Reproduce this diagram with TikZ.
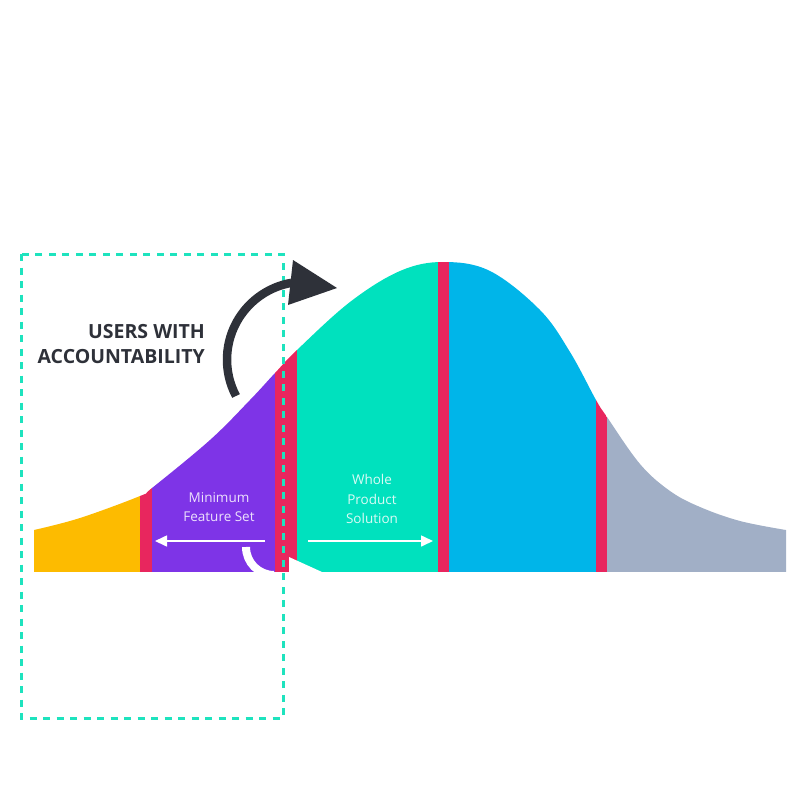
\documentclass[tikz,border=0pt]{standalone}
\usepackage{fontspec}
\setmainfont{Open Sans}
\usetikzlibrary{arrows.meta}
\definecolor{cyel}{HTML}{FDBB00}
\definecolor{cpink}{HTML}{E8265E}
\definecolor{cpurp}{HTML}{7E34E7}
\definecolor{cteal}{HTML}{00E1BE}
\definecolor{cblue}{HTML}{00B5E9}
\definecolor{cgray}{HTML}{A1AFC6}
\definecolor{cdark}{HTML}{2E3139}
\definecolor{cdash}{HTML}{1EE3BE}
\tikzset{
  band/.style={fill=#1},
  lbl/.style={text=white, text opacity=0.85, font=\fontsize{13.5}{19.5}\selectfont, align=center},
  warrow/.style={draw=white, line width=1.6pt, -{Triangle[length=12pt,width=11pt]}},
  bigtxt/.style={text=cdark, font=\fontsize{19.5}{26}\selectfont\bfseries, align=right, anchor=base east, inner sep=0pt}
}
\begin{document}
\begin{tikzpicture}[x=1pt,y=-1pt]
\useasboundingbox (0,0) rectangle (800,800);
\begin{scope}
\clip (34,572) -- plot[smooth, tension=0.6] coordinates {(34,530) (80,518) (140,496) (152,488) (210,440) (250,400) (275,373) (297,350) (350,302) (400,271) (443,262) (490,271) (540,310) (570,352) (596,400) (607,417) (640,464) (670,491) (700,507) (740,521) (786,530)} -- (786,572) -- cycle;
\fill[cyel] (30,200) rectangle (140,572);
\fill[cpink] (140,200) rectangle (152,572);
\fill[cpurp] (152,200) rectangle (275,572);
\fill[cpink] (275,200) rectangle (297,572);
\fill[cteal] (297,200) rectangle (438,572);
\fill[cpink] (438,200) rectangle (449,572);
\fill[cblue] (449,200) rectangle (596,572);
\fill[cpink] (596,200) rectangle (607,572);
\fill[cgray] (607,200) rectangle (790,572);
\end{scope}
% white partial arrow at the bottom
\begin{scope}
\clip (200,500) rectangle (340,572);
\draw[white, line width=8pt] (246,547) arc[start angle=180, end angle=90, radius=28];
\fill[white] (289,557) -- (322,572) -- (289,572) -- cycle;
\end{scope}
% dashed frame
\draw[cdash, line width=3pt, dash pattern=on 7pt off 6.5pt] (21,254) rectangle (283,718);
% dark curved arrow
\draw[cdark, line width=8.5pt] (236,396) arc[start angle=152.2, end angle=260, radius=78];
\fill[cdark] (293,260) -- (337,288) -- (288,305) -- cycle;
% texts
\node[bigtxt] (t1) at (205,338) {USERS WITH};
\node[bigtxt] (t2) at (205,363) {ACCOUNTABILITY};
\node[lbl] (mfs) at (219,507) {Minimum\\Feature Set};
\node[lbl] (wps) at (372,499) {Whole\\Product\\Solution};
\coordinate (la) at (265,541);
\coordinate (lb) at (155,541);
\coordinate (ra) at (308,541);
\coordinate (rb) at (433,541);
\draw[warrow] (la) -- (lb);
\draw[warrow] (ra) -- (rb);
\end{tikzpicture}
\end{document}
